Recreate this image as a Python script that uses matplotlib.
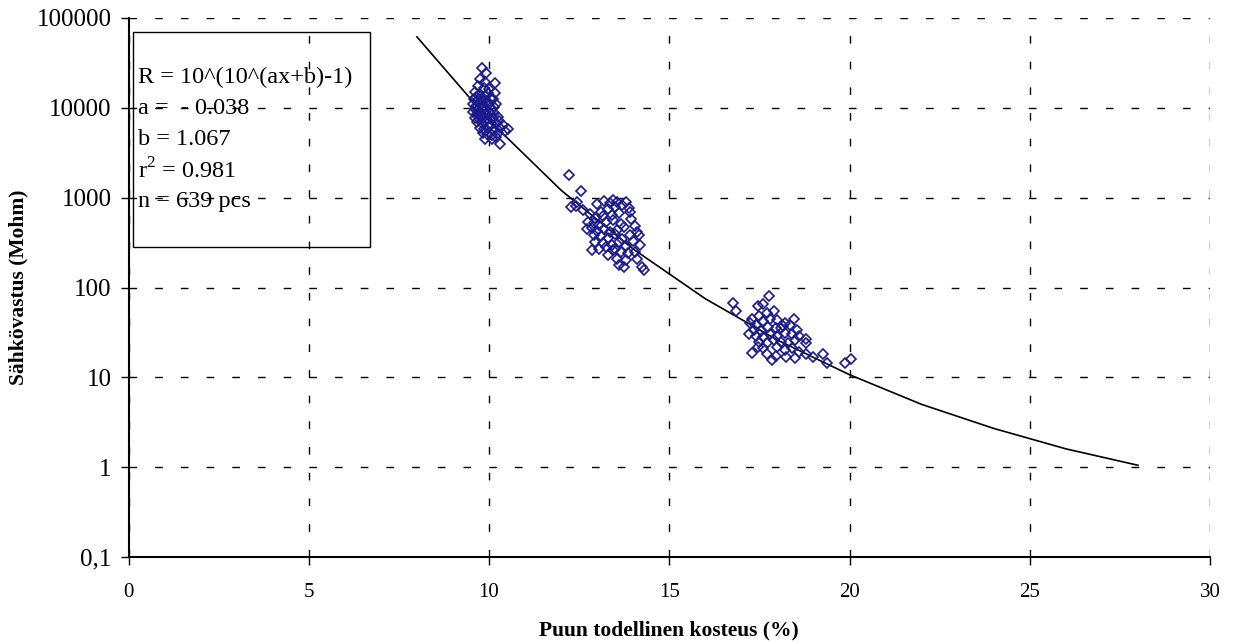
import numpy as np
import matplotlib
matplotlib.use('Agg')
import matplotlib.pyplot as plt
from matplotlib.patches import Rectangle
from matplotlib.ticker import FixedLocator, FixedFormatter

### data ###
# fitted curve R = 10^(10^(ax+b)-1), sampled as drawn
curve_x = [8, 10, 12, 14, 16, 18, 20, 22, 24, 26, 28]
curve_y = [61700, 7300, 1210, 268, 75, 26, 10.7, 5.0, 2.7, 1.6, 1.05]

# cluster around 10 %
c1_x = [9.80, 9.93, 9.75, 9.88, 10.18, 9.70, 9.85, 10.00, 10.17, 9.62, 9.72, 9.90, 10.05, 9.58,
        9.68, 9.78, 9.95, 10.10, 9.55, 9.65, 9.75, 9.85, 10.00, 10.20, 9.60, 9.70, 9.80, 9.92,
        10.08, 9.55, 9.66, 9.76, 9.88, 10.02, 10.15, 9.62, 9.72, 9.83, 9.95, 10.10, 10.25, 9.68,
        9.80, 9.90, 10.05, 10.20, 9.75, 9.87, 10.00, 10.12, 10.30, 10.52, 10.40, 9.82, 9.95,
        10.08, 10.25, 9.90, 10.08, 10.20, 10.31, 10.45, 9.98, 9.64, 9.86, 10.14, 9.74, 10.28]
c1_y = [28000, 24500, 21000, 19500, 18700, 17500, 16500, 16000, 14800, 15000, 14000, 13500, 13000, 12500,
        12000, 12500, 12000, 12500, 11000, 10500, 11000, 10500, 11000, 11000, 9800, 9500, 9800, 9500,
        9800, 9000, 8600, 8800, 8500, 8700, 8800, 7800, 7600, 7800, 7500, 7700, 7900, 6900,
        6700, 6900, 6600, 6800, 6000, 5800, 6100, 5700, 6000, 5800, 6500, 5300, 5100,
        5000, 5200, 4500, 4500, 4700, 4000, 5500, 14500, 13200, 11800, 10200, 8200, 7200]

# cluster around 13.5 %
c2_x = [12.23, 12.55, 12.27, 12.45, 12.71, 12.85, 13.75, 14.30, 13.87, 13.55, 13.00, 13.20, 13.35,
        13.45, 13.10, 13.30, 13.50, 13.70, 12.80, 12.95, 13.15, 13.40, 13.60, 13.90, 12.75, 12.90,
        13.05, 13.25, 13.45, 13.65, 13.95, 12.85, 13.00, 13.20, 13.35, 13.55, 13.75, 14.05, 12.90,
        13.10, 13.30, 13.50, 13.70, 13.90, 14.10, 12.95, 13.15, 13.40, 13.60, 13.80, 14.00, 14.20,
        13.05, 13.25, 13.45, 13.65, 13.85, 14.05, 13.30, 13.55, 13.80, 14.10, 13.60, 14.25, 12.60,
        12.40, 13.80, 14.15, 13.50]
c2_y = [1790, 1190, 795, 900, 444, 261, 170, 155, 760, 900, 850, 920, 880,
        950, 700, 750, 780, 820, 650, 600, 620, 640, 680, 700, 540, 520,
        500, 530, 560, 510, 580, 460, 430, 450, 420, 440, 470, 480, 380,
        370, 360, 390, 350, 380, 420, 320, 310, 300, 320, 290, 330, 300,
        270, 280, 260, 250, 240, 250, 230, 210, 200, 210, 180, 170, 720,
        800, 900, 380, 270]

# cluster around 18 %
c3_x = [16.76, 16.85, 17.77, 17.47, 17.60, 17.30, 17.50, 17.70, 17.90, 17.25, 17.40, 17.60, 17.80,
        18.00, 18.20, 17.35, 17.55, 17.75, 17.95, 18.15, 18.35, 18.55, 17.40, 17.60, 17.80, 18.00,
        18.20, 18.40, 18.60, 18.80, 17.50, 17.70, 17.90, 18.10, 18.30, 18.50, 18.78, 17.29, 17.60,
        17.84, 18.00, 18.20, 18.40, 18.60, 17.70, 17.95, 18.25, 18.50, 18.80, 19.00, 19.26, 19.37,
        19.88, 20.04, 18.10, 17.45, 18.45, 17.20]
c3_y = [68, 55, 81, 63, 65, 45, 48, 52, 55, 40, 38, 42, 45,
        43, 40, 34, 33, 36, 35, 37, 38, 34, 29, 28, 30, 29,
        31, 30, 29, 27, 25, 24, 26, 25, 24, 26, 24, 18.7, 21,
        15.5, 22, 20, 21, 19, 18, 17.5, 17, 16.5, 18, 17, 18, 14.3,
        14.3, 15.8, 35, 22, 45, 30]

y_ticks = [0.1, 1, 10, 100, 1000, 10000, 100000]
y_labels = ['0,1', '1', '10', '100', '1000', '10000', '100000']
x_ticks = [0, 5, 10, 15, 20, 25, 30]

fit_text = ['R = 10^(10^(ax+b)-1)', 'a =  - 0.038', 'b = 1.067', 'r$^2$ = 0.981', 'n = 639 pcs']

### figure ###
plt.rcParams['font.family'] = ['Liberation Serif', 'DejaVu Serif']
plt.rcParams['mathtext.fontset'] = 'custom'
plt.rcParams['mathtext.rm'] = 'Liberation Serif'

fig = plt.figure(figsize=(12.35, 6.44), dpi=100)
ax = fig.add_axes([128.5/1235, 1 - 557/644, 1081.5/1235, 539/644])

ax.set_yscale('log')
ax.set_xlim(0, 30)
ax.set_ylim(0.1, 100000)

ax.plot(curve_x, curve_y, color='black', lw=1.2, zorder=3)

for cx, cy in [(c1_x, c1_y), (c2_x, c2_y), (c3_x, c3_y)]:
    ax.plot(cx, cy, linestyle='none', marker='D', ms=5.5, mfc='none', mec='#1a1a8c', mew=1.2, zorder=4)

ax.yaxis.set_major_locator(FixedLocator(y_ticks))
ax.yaxis.set_major_formatter(FixedFormatter(y_labels))
ax.yaxis.set_minor_locator(FixedLocator([]))
ax.xaxis.set_major_locator(FixedLocator(x_ticks))

ax.tick_params(axis='both', direction='out', length=6, width=1, color='black')
ax.tick_params(axis='y', labelsize=18, pad=6)
ax.tick_params(axis='x', labelsize=15, pad=13)

ax.grid(True, which='major', color='black', lw=1.0, linestyle=(0, (5.5, 13)))
ax.set_axisbelow(True)
for s in ['top', 'right']:
    ax.spines[s].set_visible(False)
for s in ['left', 'bottom']:
    ax.spines[s].set_linewidth(1.5)
    ax.spines[s].set_zorder(10)

ax.set_xlabel('Puun todellinen kosteus (%)', fontsize=15.5, fontweight='bold', labelpad=13)
ax.set_ylabel('Sähkövastus (Mohm)', fontsize=15.5, fontweight='bold', labelpad=6)

# fit info box
ax.add_patch(Rectangle((0.0046, 0.575), 0.2191, 0.399, transform=ax.transAxes,
                       fill=False, edgecolor='black', lw=1, zorder=5))
for i, line in enumerate(fit_text):
    ax.text(0.009, 0.889 - i * 0.0575, line, transform=ax.transAxes, fontsize=17.5,
            va='center', ha='left', zorder=6)

fig.savefig('out.png', dpi=100)
